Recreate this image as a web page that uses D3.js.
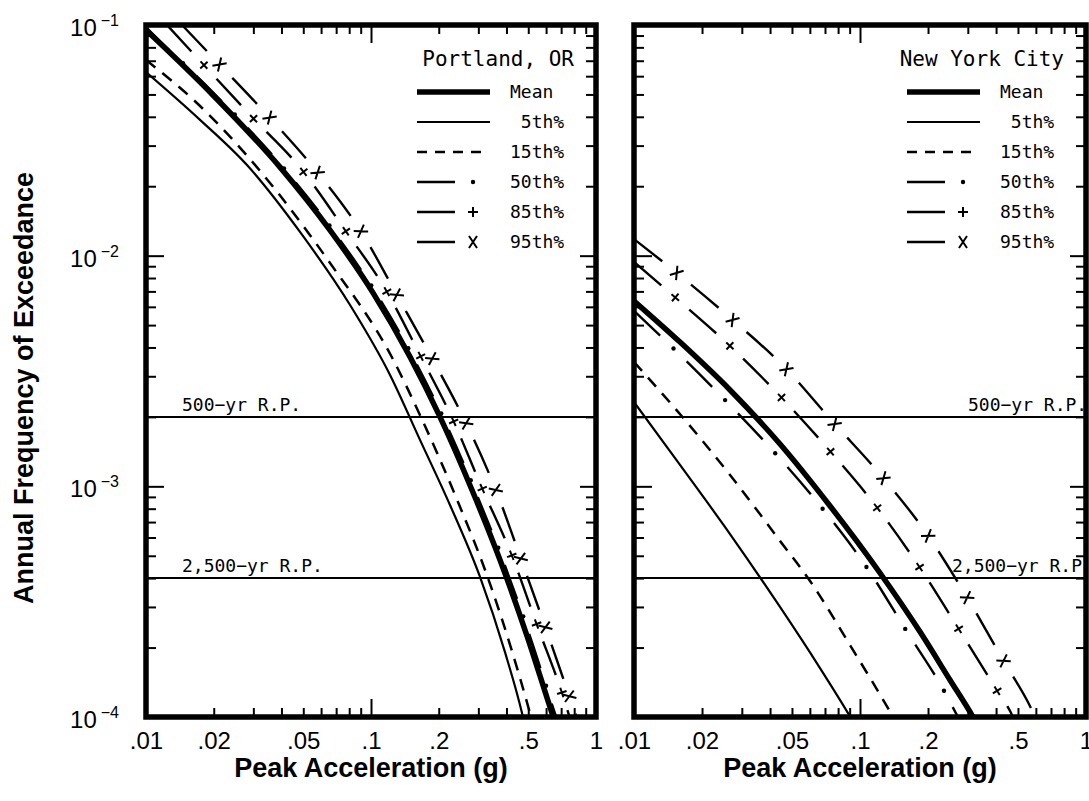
<!DOCTYPE html>
<html>
<head>
<meta charset="utf-8">
<script src="https://cdn.jsdelivr.net/npm/d3@7"></script>
<style>
  body { margin: 0; background: #fff; }
  .tick line { stroke: #000; stroke-width: 2; }
  .domain { display: none; }
  .ticklab { font-family: "Liberation Sans", Arial, sans-serif; font-size: 24px; fill: #000; }
  .title { font-family: "Liberation Sans", Arial, sans-serif; font-size: 27px; font-weight: bold; fill: #000; }
  .plottext { font-family: "DejaVu Sans Mono", monospace; fill: #000; }
</style>
</head>
<body>
<svg width="1089" height="801"></svg>
<script>
// ---- data ----
var accelTicks = [0.01, 0.02, 0.05, 0.1, 0.2, 0.5, 1];
var accelTickText = [".01", ".02", ".05", ".1", ".2", ".5", "1"];
var freqDecades = [1e-1, 1e-2, 1e-3, 1e-4];
var freqExponents = ["\u22121", "\u22122", "\u22123", "\u22124"];
var returnFreq = [0.002, 0.0004];
var returnText = ["500\u2212yr R.P.", "2,500\u2212yr R.P."];
var legendNames = ["Mean", " 5th%", "15th%", "50th%", "85th%", "95th%"];
var cities = ["Portland, OR", "New York City"];

// [peak acceleration (g), annual frequency of exceedance]
var portlandMean = [[0.01,0.0951],[0.01925,0.0512],[0.0394,0.0242],[0.0657,0.0129],[0.1021,0.0069],[0.1491,0.00364],[0.2026,0.0020],[0.2811,0.000964],[0.3745,0.000479],[0.4935,0.000225],[0.6374,0.000104],[0.692,0.0000818]];
var portland5 = [[0.01,0.0625],[0.01738,0.0388],[0.02811,0.0247],[0.04835,0.01267],[0.0807,0.00611],[0.1215,0.00304],[0.1651,0.00159],[0.2244,0.00083],[0.3051,0.000405],[0.394,0.000191],[0.469,0.000104],[0.4935,0.0000836]];
var portland15 = [[0.01,0.0705],[0.0172,0.045],[0.0327,0.02283],[0.0643,0.00958],[0.1237,0.003636],[0.1665,0.0020],[0.2395,0.00089],[0.3311,0.0004],[0.4233,0.000193],[0.5089,0.000104],[0.5411,0.0000836]];
var portland50 = [[0.0098,0.1],[0.0103,0.0951],[0.0198,0.0512],[0.0406,0.0242],[0.0677,0.0129],[0.1052,0.0069],[0.1536,0.00364],[0.2087,0.0020],[0.2895,0.000964],[0.3857,0.000479],[0.5083,0.000225],[0.6565,0.000104],[0.713,0.0000818]];
var portland85 = [[0.0124,0.1],[0.01774,0.0684],[0.0296,0.0399],[0.04935,0.02352],[0.0766,0.01292],[0.1178,0.00696],[0.1651,0.00371],[0.2314,0.00194],[0.3113,0.000984],[0.4233,0.000499],[0.5468,0.00025],[0.7062,0.000127],[0.8066,0.0000836]];
var portland95 = [[0.01445,0.1],[0.02133,0.0671],[0.03557,0.0395],[0.05812,0.02283],[0.0912,0.01254],[0.1318,0.00662],[0.1886,0.00353],[0.2671,0.001845],[0.3631,0.000936],[0.469,0.00047],[0.6056,0.000234],[0.7662,0.000121],[0.875,0.0000836]];

var nycMean = [[0.01,0.00636],[0.01598,0.00422],[0.0266,0.002617],[0.04426,0.001526],[0.0737,0.000822],[0.1226,0.000421],[0.1843,0.000234],[0.2502,0.0001447],[0.3162,0.0001],[0.3502,0.0000836]];
var nyc5 = [[0.01,0.00232],[0.01598,0.001238],[0.0266,0.000621],[0.04426,0.0003],[0.06653,0.000163],[0.0885,0.000104],[0.098,0.0000878]];
var nyc15 = [[0.01,0.00346],[0.01681,0.00194],[0.0266,0.00112],[0.04426,0.00058],[0.0601,0.000389],[0.0903,0.000205],[0.14,0.0001],[0.155,0.0000836]];
var nyc50 = [[0.01,0.00576],[0.01488,0.00398],[0.02527,0.002367],[0.04206,0.001395],[0.0679,0.000806],[0.1074,0.000443],[0.1598,0.000238],[0.2353,0.00013],[0.2714,0.0001],[0.3006,0.0000836]];
var nyc85 = [[0.01,0.0094],[0.0152,0.0066],[0.0263,0.0041],[0.0447,0.00244],[0.0737,0.00142],[0.1189,0.00081],[0.1824,0.00045],[0.274,0.00024],[0.404,0.00013],[0.475,0.0001],[0.51,0.0000836]];
var nyc95 = [[0.01,0.0118],[0.0155,0.0084],[0.0271,0.0053],[0.0461,0.0033],[0.0759,0.0019],[0.1264,0.00109],[0.198,0.00062],[0.2975,0.00033],[0.429,0.000177],[0.5945,0.0001],[0.64,0.0000836]];

// ---- styles, in legend order ----
var styles = [
  { width: 5.5, dash: null, mark: null },
  { width: 2.2, dash: null, mark: null },
  { width: 2.5, dash: "12,9", mark: null, legendDash: "10,8" },
  { width: 2.4, dash: "36,37", mark: "dot" },
  { width: 2.4, dash: "36,37", mark: "plus" },
  { width: 2.4, dash: "36,37", mark: "x" }
];
var markPaths = { plus: "M-5,0H5M0,-5V5", x: "M-4,-6L4,6M4,-6L-4,6" };

var plotTop = 25, plotBottom = 717;
var panels = [
  { left: 146, right: 596, series: [portlandMean, portland5, portland15, portland50, portland85, portland95] },
  { left: 634, right: 1086, series: [nycMean, nyc5, nyc15, nyc50, nyc85, nyc95] }
];

var svg = d3.select("svg");

function isDecade(v) {
  var l = Math.log10(v);
  return Math.abs(l - Math.round(l)) < 1e-6;
}

function addMark(sel, kind, px, py, angle) {
  if (kind === "dot") {
    sel.append("circle").attr("cx", px).attr("cy", py).attr("r", 2.2).attr("fill", "#000");
  } else {
    sel.append("path").attr("d", markPaths[kind])
      .attr("transform", "translate(" + px + "," + py + ") rotate(" + angle + ")")
      .attr("stroke", "#000").attr("stroke-width", 2).attr("fill", "none");
  }
}

panels.forEach(function(p, pi) {
  var x = d3.scaleLog().domain([0.01, 1]).range([p.left, p.right]);
  var y = d3.scaleLog().domain([1e-4, 1e-1]).range([plotBottom, plotTop]);
  var g = svg.append("g");

  svg.append("clipPath").attr("id", "clip" + pi)
    .append("rect").attr("x", p.left).attr("y", plotTop)
    .attr("width", p.right - p.left).attr("height", plotBottom - plotTop);

  // tick marks on all four sides, pointing inward
  var xt = x.ticks(), yt = y.ticks();
  var xMinor = xt.filter(function(v) { return !isDecade(v); });
  var xMajor = xt.filter(isDecade);
  var yMinor = yt.filter(function(v) { return !isDecade(v); });
  var yMajor = yt.filter(isDecade);

  g.append("g").attr("transform", "translate(0," + plotBottom + ")")
    .call(d3.axisBottom(x).tickValues(xMinor).tickSize(-9).tickFormat(""));
  g.append("g").attr("transform", "translate(0," + plotBottom + ")")
    .call(d3.axisBottom(x).tickValues(xMajor).tickSize(-18).tickFormat(""));
  g.append("g").attr("transform", "translate(0," + plotTop + ")")
    .call(d3.axisTop(x).tickValues(xMinor).tickSize(-9).tickFormat(""));
  g.append("g").attr("transform", "translate(0," + plotTop + ")")
    .call(d3.axisTop(x).tickValues(xMajor).tickSize(-18).tickFormat(""));
  g.append("g").attr("transform", "translate(" + p.left + ",0)")
    .call(d3.axisLeft(y).tickValues(yMinor).tickSize(-10).tickFormat(""));
  g.append("g").attr("transform", "translate(" + p.left + ",0)")
    .call(d3.axisLeft(y).tickValues(yMajor).tickSize(-18).tickFormat(""));
  g.append("g").attr("transform", "translate(" + p.right + ",0)")
    .call(d3.axisRight(y).tickValues(yMinor).tickSize(-10).tickFormat(""));
  g.append("g").attr("transform", "translate(" + p.right + ",0)")
    .call(d3.axisRight(y).tickValues(yMajor).tickSize(-16).tickFormat(""));

  // x tick labels
  var xa = g.append("g").attr("transform", "translate(0," + plotBottom + ")")
    .call(d3.axisBottom(x).tickValues(accelTicks).tickSize(0).tickPadding(15)
      .tickFormat(function(d, i) { return accelTickText[i]; }));
  xa.attr("font-size", null).attr("font-family", null);
  xa.selectAll("text").attr("class", "ticklab").attr("fill", "#000");

  // x title
  g.append("text").attr("class", "title")
    .attr("x", (p.left + p.right) / 2).attr("y", 777)
    .attr("text-anchor", "middle").text("Peak Acceleration (g)");

  // y tick labels (left panel only)
  if (pi === 0) {
    freqDecades.forEach(function(v, i) {
      var t = g.append("text").attr("class", "ticklab")
        .attr("x", 119).attr("y", y(v)).attr("dy", "0.46em")
        .attr("text-anchor", "end");
      t.append("tspan").text("10");
      t.append("tspan").attr("dx", 4).attr("dy", -10).attr("font-size", 16).text(freqExponents[i]);
    });
  }

  var inner = g.append("g").attr("clip-path", "url(#clip" + pi + ")");

  // return period lines
  returnFreq.forEach(function(f, i) {
    inner.append("line")
      .attr("x1", p.left).attr("x2", p.right)
      .attr("y1", y(f)).attr("y2", y(f))
      .attr("stroke", "#000").attr("stroke-width", 2);
    var lx = pi === 0 ? p.left + 36 : (i === 0 ? p.right - 118 : p.right - 134);
    inner.append("text").attr("class", "plottext")
      .attr("font-size", 18)
      .attr("x", lx).attr("y", y(f) - 6)
      .text(returnText[i]);
  });

  // hazard curves
  var line = d3.line()
    .x(function(d) { return x(d[0]); })
    .y(function(d) { return y(d[1]); })
    .curve(d3.curveMonotoneX);

  [1, 2, 3, 4, 5, 0].forEach(function(si) {
    var st = styles[si];
    var path = inner.append("path")
      .attr("d", line(p.series[si]))
      .attr("fill", "none").attr("stroke", "#000")
      .attr("stroke-width", st.width)
      .attr("stroke-dasharray", st.dash);
    if (st.mark) {
      var node = path.node(), L = node.getTotalLength();
      for (var s = 54.5; s < L; s += 73) {
        var a = node.getPointAtLength(s), b = node.getPointAtLength(Math.min(L, s + 1));
        var ang = Math.atan2(b.y - a.y, b.x - a.x) * 180 / Math.PI;
        addMark(inner, st.mark, a.x, a.y, ang);
      }
    }
  });

  // city title and legend
  g.append("text").attr("class", "plottext").attr("font-size", 21)
    .attr("x", p.right - 22).attr("y", 66).attr("text-anchor", "end")
    .text(cities[pi]);

  legendNames.forEach(function(name, i) {
    var st = styles[i], ry = 92 + i * 30;
    var x0 = p.right - 179, x1 = st.mark ? p.right - 141 : p.right - 106;
    if (st.dash && !st.mark) x1 = p.right - 114;
    g.append("line").attr("x1", x0).attr("x2", x1).attr("y1", ry).attr("y2", ry)
      .attr("stroke", "#000").attr("stroke-width", st.width)
      .attr("stroke-dasharray", st.legendDash || null);
    if (st.mark) addMark(g, st.mark, p.right - 123, ry, 0);
    g.append("text").attr("class", "plottext").attr("font-size", 18)
      .attr("x", p.right - 86).attr("y", ry + 6)
      .attr("xml:space", "preserve").style("white-space", "pre")
      .text(name);
  });

  // frame
  g.append("rect").attr("x", p.left).attr("y", plotTop)
    .attr("width", p.right - p.left).attr("height", plotBottom - plotTop)
    .attr("fill", "none").attr("stroke", "#000").attr("stroke-width", 5.5);
});

// y title
svg.append("text").attr("class", "title")
  .attr("transform", "translate(33," + 388 + ") rotate(-90)")
  .attr("text-anchor", "middle")
  .text("Annual Frequency of Exceedance");
</script>
</body>
</html>
